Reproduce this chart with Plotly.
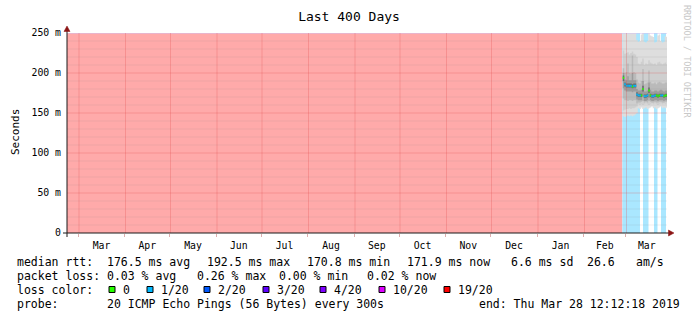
import pandas as pd
import plotly.graph_objects as go

# ---------------- data ----------------
TITLE = "Last 400 Days"
Y_TITLE = "Seconds"
START = "2018-02-21 12:12:18"
END = "2019-03-28 12:12:18"

Y_TICKS = [0, 50, 100, 150, 200, 250]
Y_TICK_TEXT = ["0", "50 m", "100 m", "150 m", "200 m", "250 m"]

LOSS_LEVELS = ["0", "1/20", "2/20", "3/20", "4/20", "10/20", "19/20"]
LOSS_COLORS = ["#26ff00", "#00b8ff", "#0059ff", "#5e00ff", "#7e00ff", "#dd00ff", "#ff0000"]

# loss background periods
BG_START = ["2018-02-21 12:12:18", "2019-02-26 18:00", "2019-03-12 12:00", "2019-03-19 20:00", "2019-03-24 12:00"]
BG_END = ["2019-02-26 18:00", "2019-03-10 12:00", "2019-03-16 04:00", "2019-03-22 04:00", "2019-03-27 20:00"]
BG_LEVEL = ["19/20", "1/20", "1/20", "1/20", "1/20"]

DAYS = ["2019-02-27", "2019-02-28", "2019-03-01", "2019-03-02", "2019-03-03", "2019-03-04",
        "2019-03-05", "2019-03-06", "2019-03-07", "2019-03-08", "2019-03-09", "2019-03-10",
        "2019-03-11", "2019-03-12", "2019-03-13", "2019-03-14", "2019-03-15", "2019-03-16",
        "2019-03-17", "2019-03-18", "2019-03-19", "2019-03-20", "2019-03-21", "2019-03-22",
        "2019-03-23", "2019-03-24", "2019-03-25", "2019-03-26", "2019-03-27", "2019-03-28"]

MEDIAN_MS = [194, 186, 184, 184, 184, 184, 183, 184, 184, 173, 172, 172, 172, 180, 171,
             171, 172, 178, 172, 171, 171, 172, 172, 171, 172, 172, 172, 171, 172, 172]
MEDIAN_LOSS = [0, 1, 1, 1, 1, 1, 0, 1, 1, 1, 1, 1, 0, 0, 1,
               1, 1, 0, 0, 1, 1, 1, 0, 0, 0, 1, 1, 0, 0, 0]

# smoke bands (ms), outermost to innermost
SMOKE1_LO = [146, 145, 146, 147, 146, 147, 146, 147, 148, 150, 156, 155, 157, 155, 156,
             157, 155, 156, 157, 158, 156, 157, 155, 156, 157, 158, 156, 157, 156, 157]
SMOKE1_HI = [250, 250, 250, 250, 250, 250, 250, 250, 250, 241, 239, 240, 248, 250, 239,
             238, 240, 250, 247, 246, 245, 238, 239, 247, 248, 240, 238, 239, 246, 245]
SMOKE2_LO = [153, 154, 155, 155, 156, 155, 156, 156, 157, 158, 161, 160, 161, 160, 161,
             162, 161, 160, 161, 162, 161, 162, 161, 160, 161, 162, 161, 162, 161, 162]
SMOKE2_HI = [228, 224, 225, 226, 223, 225, 227, 224, 223, 220, 212, 211, 214, 218, 210,
             212, 211, 216, 213, 212, 211, 212, 210, 213, 214, 212, 211, 212, 213, 211]
SMOKE3_LO = [168, 166, 166, 165, 166, 166, 165, 166, 166, 162, 163, 163, 164, 165, 163,
             164, 163, 165, 164, 163, 163, 164, 163, 163, 164, 164, 163, 163, 164, 164]
SMOKE3_HI = [206, 200, 201, 212, 200, 199, 222, 201, 200, 192, 188, 187, 190, 205, 186,
             187, 188, 203, 189, 187, 187, 188, 186, 188, 189, 188, 187, 187, 188, 188]
SMOKE4_LO = [181, 178, 177, 177, 177, 177, 176, 177, 177, 167, 166, 166, 166, 171, 165,
             165, 166, 169, 166, 165, 165, 166, 166, 165, 166, 166, 166, 165, 166, 166]
SMOKE4_HI = [200, 192, 191, 196, 191, 191, 200, 191, 191, 180, 178, 178, 179, 190, 177,
             177, 178, 188, 179, 177, 177, 178, 178, 177, 178, 179, 178, 177, 178, 178]
SMOKE5_LO = [190, 183, 182, 182, 182, 182, 181, 182, 182, 171, 170, 170, 170, 177, 169,
             169, 170, 175, 170, 169, 169, 170, 170, 169, 170, 170, 170, 169, 170, 170]
SMOKE5_HI = [197, 188, 187, 187, 187, 187, 186, 187, 187, 176, 174, 174, 174, 184, 173,
             173, 174, 182, 174, 173, 173, 174, 174, 173, 174, 174, 174, 173, 174, 174]

RTT_LABEL = "median rtt:"
RTT_STATS = ["176.5 ms avg", "192.5 ms max", "170.8 ms min", "171.9 ms now", "6.6 ms sd", "26.6", "am/s"]
LOSS_LABEL = "packet loss:"
LOSS_STATS = ["0.03 % avg", "0.26 % max", "0.00 % min", "0.02 % now"]
COLOR_LABEL = "loss color:"
PROBE_LABEL = "probe:"
PROBE_TEXT = "20 ICMP Echo Pings (56 Bytes) every 300s"
END_TEXT = "end: Thu Mar 28 12:12:18 2019"
WATERMARK = "RRDTOOL / TOBI OETIKER"

# ---------------- style / layout ----------------
W, H = 697, 321
PL, PT, PW, PH = 67, 33, 600, 200
FONT = "DejaVu Sans Mono"
SMOKE_COLORS = ["#dedede", "#cfcfcf", "#bababa", "#9c9c9c", "#6a6a6a"]


def px(x):
    return (x - PL) / PW


def py(y):
    return (PT + PH - y) / PH


def light(hexcol):
    r, g, b = (int(hexcol[i:i + 2], 16) for i in (1, 3, 5))
    f = lambda c: int(round(255 - (255 - c) / 3))
    return "rgb(%d,%d,%d)" % (f(r), f(g), f(b))


color_of = dict(zip(LOSS_LEVELS, LOSS_COLORS))

fig = go.Figure()

# loss backgrounds
for s, e, lvl in zip(BG_START, BG_END, BG_LEVEL):
    fig.add_trace(go.Scatter(x=[s, e], y=[Y_TICKS[-1], Y_TICKS[-1]], fill="tozeroy",
                             mode="none", fillcolor=light(color_of[lvl]),
                             showlegend=False, hoverinfo="skip"))

# smoke
xs = DAYS + [END]
bands = [(SMOKE1_LO, SMOKE1_HI), (SMOKE2_LO, SMOKE2_HI), (SMOKE3_LO, SMOKE3_HI),
         (SMOKE4_LO, SMOKE4_HI), (SMOKE5_LO, SMOKE5_HI)]
for (lo, hi), col in zip(bands, SMOKE_COLORS):
    fig.add_trace(go.Scatter(x=xs, y=lo + [lo[-1]], mode="lines", line=dict(width=0, shape="hv"),
                             showlegend=False, hoverinfo="skip"))
    fig.add_trace(go.Scatter(x=xs, y=hi + [hi[-1]], mode="lines", line=dict(width=0, shape="hv"),
                             fill="tonexty", fillcolor=col, showlegend=False, hoverinfo="skip"))

# median, coloured by loss
seg_x = {}
seg_y = {}
for i, (d, m, l) in enumerate(zip(DAYS, MEDIAN_MS, MEDIAN_LOSS)):
    nxt = xs[i + 1]
    seg_x.setdefault(l, []).extend([d, nxt, None])
    seg_y.setdefault(l, []).extend([m, m, None])
for l in seg_x:
    fig.add_trace(go.Scatter(x=seg_x[l], y=seg_y[l], mode="lines",
                             line=dict(color=LOSS_COLORS[l], width=2),
                             showlegend=False, hoverinfo="skip"))

shapes = []
MAJOR = "rgba(225,70,70,0.26)"
MINOR = "rgba(120,120,120,0.12)"
# horizontal grid
for v in range(10, Y_TICKS[-1], 10):
    shapes.append(dict(type="line", xref="paper", yref="y", x0=0, x1=1, y0=v, y1=v, layer="above",
                       line=dict(color=MAJOR if v % 50 == 0 else MINOR, width=1)))
shapes.append(dict(type="line", xref="paper", yref="y", x0=0, x1=1, y0=Y_TICKS[-1], y1=Y_TICKS[-1],
                   layer="above", line=dict(color="#d2bff0", width=1)))
# vertical month grid
for m in pd.date_range(START, END, freq="MS"):
    shapes.append(dict(type="line", xref="x", yref="paper", x0=m, x1=m, y0=0, y1=1, layer="above",
                       line=dict(color=MAJOR, width=1)))
# axes
shapes.append(dict(type="line", xref="paper", yref="paper", x0=px(63), x1=px(669), y0=0, y1=0,
                   layer="above", line=dict(color="#1a1a1a", width=1)))
shapes.append(dict(type="line", xref="paper", yref="paper", x0=0, x1=0, y0=py(237), y1=py(30),
                   layer="above", line=dict(color="#1a1a1a", width=1)))
ARROW = "#8b1515"
shapes.append(dict(type="path", xref="paper", yref="paper", layer="above",
                   path="M %f %f L %f %f L %f %f Z" % (px(67), py(26), px(64), py(31.5), px(70), py(31.5)),
                   fillcolor=ARROW, line=dict(color=ARROW, width=0.5)))
shapes.append(dict(type="path", xref="paper", yref="paper", layer="above",
                   path="M %f %f L %f %f L %f %f Z" % (px(674), py(233), px(668.5), py(230), px(668.5), py(236)),
                   fillcolor=ARROW, line=dict(color=ARROW, width=0.5)))

annotations = []


def text(t, x, y, size=11.5, color="#000000", anchor="left", angle=0):
    annotations.append(dict(text=t, xref="paper", yref="paper", x=px(x), y=py(y), showarrow=False,
                            xanchor=anchor, yanchor="middle", textangle=angle, borderpad=0,
                            borderwidth=0, font=dict(family=FONT, size=size, color=color)))


# legend rows
ROW_Y = [262, 275.5, 289.5, 303.5]
LX = 16.5
text(RTT_LABEL, LX, ROW_Y[0])
for t, x in zip(RTT_STATS, [106.5, 206.5, 306.5, 406.5, 510.5, 586.5, 635.5]):
    text(t, x, ROW_Y[0])
text(LOSS_LABEL, LX, ROW_Y[1])
for t, x in zip(LOSS_STATS, [106.5, 196.5, 278.5, 366.5]):
    text(t, x, ROW_Y[1])
text(COLOR_LABEL, LX, ROW_Y[2])
for lvl, col, bx in zip(LOSS_LEVELS, LOSS_COLORS, [109, 147, 204, 263, 320, 379, 444]):
    shapes.append(dict(type="rect", xref="paper", yref="paper", layer="above",
                       x0=px(bx), x1=px(bx + 6), y0=py(ROW_Y[2] + 3), y1=py(ROW_Y[2] - 3),
                       fillcolor=col, line=dict(color="#000000", width=1)))
    text(lvl, bx + 13.5, ROW_Y[2])
text(PROBE_LABEL, LX, ROW_Y[3])
text(PROBE_TEXT, 106.5, ROW_Y[3])
text(END_TEXT, 478.5, ROW_Y[3])

text(Y_TITLE, 15, 132, size=11, angle=-90, anchor="center")
text(WATERMARK, 687, 61, size=8.5, color="#c8c8c8", anchor="center", angle=90)

fig.update_layout(
    width=W, height=H,
    margin=dict(l=PL, r=W - PL - PW, t=PT, b=H - PT - PH, pad=0),
    paper_bgcolor="white", plot_bgcolor="white",
    title=dict(text=TITLE, x=349 / W, y=1 - 16 / H, xanchor="center", yanchor="middle",
               font=dict(family=FONT, size=13, color="#000000")),
    xaxis=dict(type="date", range=[START, END], tick0="2018-03-01", dtick="M1", tickformat="%b",
               ticklabelmode="period", ticks="outside", ticklen=3, tickcolor="rgba(200,120,120,0.6)",
               showgrid=False, zeroline=False, showline=False, fixedrange=True,
               tickfont=dict(family=FONT, size=9.8, color="#000000"), ticklabelstandoff=0),
    yaxis=dict(range=[0, Y_TICKS[-1]], tickvals=Y_TICKS, ticktext=Y_TICK_TEXT, ticks="",
               showgrid=False, zeroline=False, showline=False, fixedrange=True,
               tickfont=dict(family=FONT, size=9.8, color="#000000"), ticklabelstandoff=5),
    shapes=shapes,
    annotations=annotations,
    showlegend=False,
)

fig.write_html("out.html")
